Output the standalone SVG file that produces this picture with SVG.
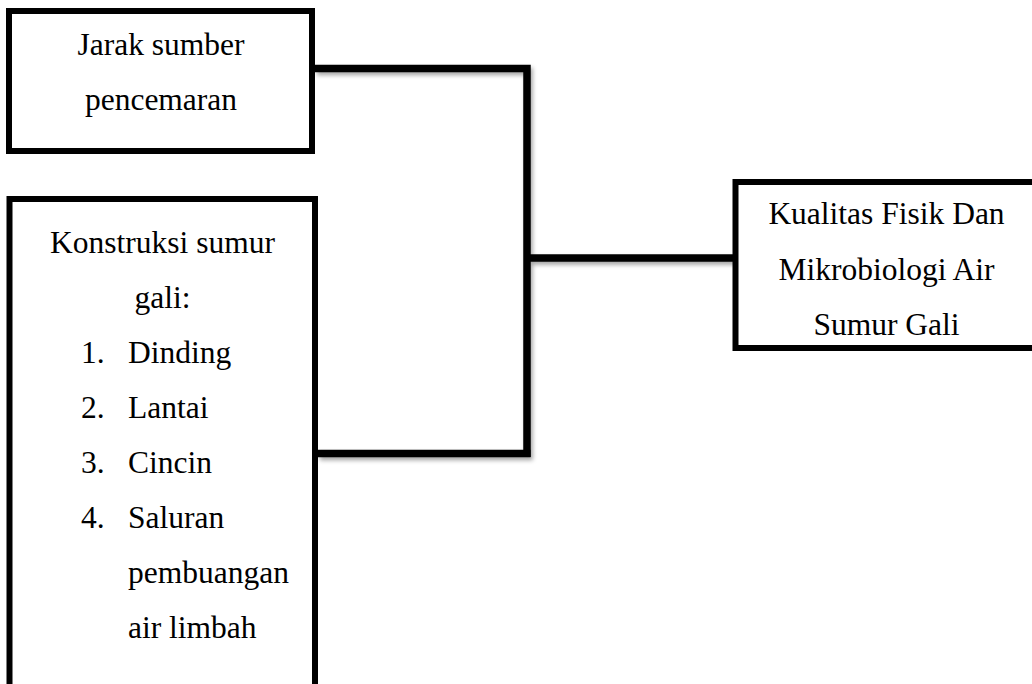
<svg xmlns="http://www.w3.org/2000/svg" width="1032" height="684" viewBox="0 0 1032 684">
  <style>
    .box { fill: #ffffff; stroke: #000000; stroke-width: 6; }
    .conn { fill: none; stroke: #000000; stroke-width: 7.5; stroke-linecap: butt; stroke-linejoin: miter; }
    text { font-family: "Liberation Serif", "Times New Roman", serif; font-size: 31.5px; fill: #000000; }
    .c { text-anchor: middle; }
  </style>
  <defs>
    <filter id="shadow" x="-5%" y="-5%" width="115%" height="115%">
      <feDropShadow dx="2" dy="3" stdDeviation="2" flood-color="#000000" flood-opacity="0.35"/>
    </filter>
  </defs>
  <rect width="1032" height="684" fill="#ffffff"/>

  <g id="connectors" filter="url(#shadow)">
    <path class="conn" d="M315,68.5 H527 V457"/>
    <path class="conn" d="M318,453.5 H530.5"/>
    <path class="conn" d="M527,258 H735"/>
  </g>

  <g id="node-jarak">
    <rect class="box" x="9" y="11" width="303" height="140"/>
    <text class="c" x="161" y="55">Jarak sumber</text>
    <text class="c" x="161" y="110">pencemaran</text>
  </g>

  <g id="node-konstruksi">
    <rect class="box" x="9.5" y="199" width="305.5" height="500"/>
    <text class="c" x="162.5" y="253">Konstruksi sumur</text>
    <text class="c" x="162.5" y="308">gali:</text>
    <text x="81" y="363">1.</text>
    <text x="128" y="363">Dinding</text>
    <text x="81" y="418">2.</text>
    <text x="128" y="418">Lantai</text>
    <text x="81" y="473">3.</text>
    <text x="128" y="473">Cincin</text>
    <text x="81" y="528">4.</text>
    <text x="128" y="528">Saluran</text>
    <text x="128" y="583">pembuangan</text>
    <text x="128" y="638">air limbah</text>
  </g>

  <g id="node-kualitas">
    <rect class="box" x="735.5" y="182" width="310" height="166"/>
    <text class="c" x="886.5" y="224">Kualitas Fisik Dan</text>
    <text class="c" x="886.5" y="279.5">Mikrobiologi Air</text>
    <text class="c" x="886.5" y="335">Sumur Gali</text>
  </g>
</svg>
